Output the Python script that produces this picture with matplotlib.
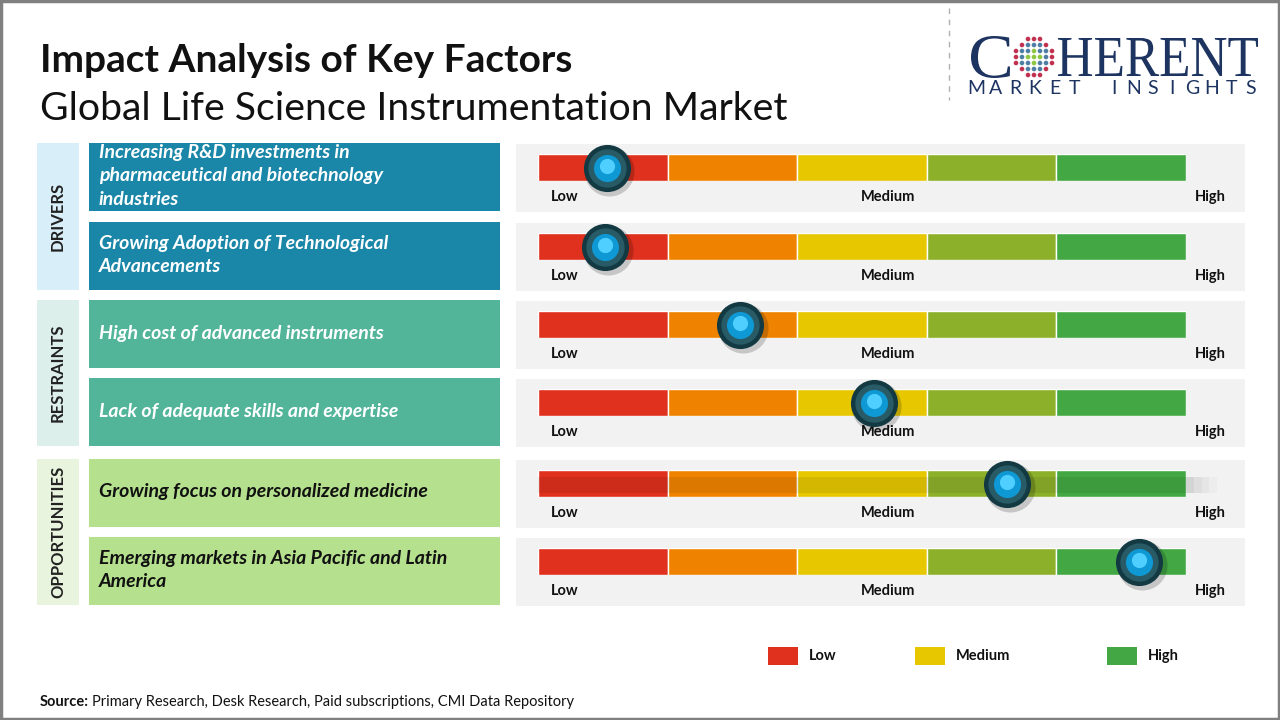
import numpy as np
import matplotlib
matplotlib.use('agg')
import matplotlib.pyplot as plt
from matplotlib.patches import Rectangle, PathPatch
from matplotlib.textpath import TextPath
from matplotlib.font_manager import FontProperties
from matplotlib.transforms import Affine2D

plt.rcParams['font.family'] = ['Lato', 'DejaVu Sans']

# ---- data ----
title = "Impact Analysis of Key Factors"
subtitle = "Global Life Science Instrumentation Market"
categories = ["DRIVERS", "RESTRAINTS", "OPPORTUNITIES"]
factors = [
    "Increasing R&D investments in\npharmaceutical and biotechnology\nindustries",
    "Growing Adoption of Technological\nAdvancements",
    "High cost of advanced instruments",
    "Lack of adequate skills and expertise",
    "Growing focus on personalized medicine",
    "Emerging markets in Asia Pacific and Latin\nAmerica",
]
factor_category = [0, 0, 1, 1, 2, 2]
# impact position on a 0-5 scale (five colour bands)
impact = [0.53, 0.52, 1.56, 2.59, 3.62, 4.64]
band_colors = ["#e0301e", "#ef8300", "#e6c700", "#8db02a", "#43a843"]
scale_labels = ["Low", "Medium", "High"]
scale_pos = [0.10, 2.70, 5.19]
legend_labels = ["Low", "Medium", "High"]
legend_colors = ["#e0301e", "#e6c700", "#43a843"]
source = "Primary Research, Desk Research, Paid subscriptions, CMI Data Repository"

W, H = 1280, 720
fig = plt.figure(figsize=(12.8, 7.2), dpi=100)
ax = fig.add_axes([0, 0, 1, 1])
ax.set_xlim(0, W)
ax.set_ylim(H, 0)
ax.axis('off')

# frame
ax.add_patch(Rectangle((1, 1), W - 2, H - 2, fill=False, ec="#808080", lw=2.5))

ax.text(40, 72, title, fontsize=28, fontweight='bold', color="#111111", va='baseline')
ax.text(40, 120, subtitle, fontsize=28.3, color="#111111", va='baseline')

# logo
ax.plot([949, 949], [8, 100], ls=(0, (4, 4)), color="#b0b0b0", lw=1)


def fit_text(s, x0, x1, y0, y1, prop, color):
    tp = TextPath((0, 0), s, prop=prop, size=50)
    ext = tp.get_extents()
    sx = (x1 - x0) / ext.width
    sy = (y1 - y0) / ext.height
    tr = Affine2D().translate(-ext.x0, -ext.y0).scale(sx, -sy).translate(x0, y1)
    ax.add_patch(PathPatch(tr.transform_path(tp), fc=color, ec='none'))


navy = "#1d3461"
serif = FontProperties(family="Liberation Serif")
fit_text("C", 971, 1010, 36, 78, serif, navy)
fit_text("HERENT", 1058, 1258, 38, 76, serif, navy)
mk = "MARKET INSIGHTS"
xs = np.linspace(976, 1251, len(mk))
for ch, xc in zip(mk, xs):
    if ch != " ":
        ax.text(xc, 88, ch, color=navy, ha='center', va='center',
                fontproperties=FontProperties(family="Lato", weight='normal', size=14))
gx, gy, gr = 1034, 57, 20
for i in np.arange(-3, 4):
    for j in np.arange(-3, 4):
        px, py = gx + j * 6.0, gy + i * 6.0
        d = np.hypot(px - gx, py - gy) / gr
        if d > 1.05:
            continue
        c = "#c2304f" if d > 0.8 else ("#4d7ea3" if d > 0.4 else "#8dc63f")
        ax.add_patch(plt.Circle((px, py), 2.3, color=c, lw=0))

# layout
row_top = [143, 222, 300, 378, 459, 537]
row_h = 68
cat_fill = ["#d8eef8", "#dcefea", "#e8f4de"]
box_fill = ["#1a87a8", "#1a87a8", "#52b59a", "#52b59a", "#b5e08d", "#b5e08d"]
text_col = ["white", "white", "white", "white", "#111111", "#111111"]

for c, name in enumerate(categories):
    rows = [r for r, fc in enumerate(factor_category) if fc == c]
    y0 = row_top[rows[0]]
    y1 = row_top[rows[-1]] + row_h
    ax.add_patch(Rectangle((37, y0), 42, y1 - y0, fc=cat_fill[c], ec='none'))
    ax.text(58, (y0 + y1) / 2, name, rotation=90, ha='center', va='center',
            fontsize=12, fontweight='bold', color="#222222")

bar_x0, bar_x1 = 538, 1186
bar_h = 27
for r, txt in enumerate(factors):
    y0 = row_top[r]
    ax.add_patch(Rectangle((89, y0), 411, row_h, fc=box_fill[r], ec='none'))
    ax.text(99, y0 + row_h / 2 - 1, txt, ha='left', va='center', fontsize=14,
            fontweight='bold', style='italic', color=text_col[r], linespacing=1.45)
    # gauge panel
    ax.add_patch(Rectangle((516, y0 + 1), 729, row_h, fc="#f2f2f2", ec='none'))
    for lab, p in zip(scale_labels, scale_pos):
        xp = bar_x0 + p * (bar_x1 - bar_x0) / 5
        ax.text(xp, y0 + 54, lab, ha='left' if lab == "Low" else 'center', va='center',
                fontsize=10.5, fontweight='bold', color="#111111")

    gax = fig.add_axes([bar_x0 / W, 1 - (y0 + 11 + bar_h) / H,
                        (bar_x1 - bar_x0) / W, bar_h / H])
    gax.set_xlim(0, 5)
    gax.set_ylim(0, 1)
    gax.axis('off')
    for k, col in enumerate(band_colors):
        gax.barh(0.5, 1, left=k, height=1, color=col, edgecolor='white', linewidth=1)
    if r == 4:
        # soft shadow across this gauge
        gax.barh(0.45, 5, left=0, height=0.6, color='black', alpha=0.08)
        for a, w in zip([0.10, 0.08, 0.06, 0.04], [0.06, 0.12, 0.18, 0.24]):
            gax.barh(0.45, w, left=5, height=0.6, color='#808080', alpha=a, lw=0, clip_on=False)
    v = impact[r]
    gax.scatter([v + 0.02], [0.36], s=1300, color='#000000', alpha=0.18, lw=0, clip_on=False, zorder=3)
    gax.scatter([v], [0.5], s=1150, color='#133a43', lw=0, clip_on=False, zorder=4)
    gax.scatter([v], [0.5], s=760, color='#285b66', lw=0, clip_on=False, zorder=5)
    gax.scatter([v], [0.5], s=380, color='#0e98d4', lw=0, clip_on=False, zorder=6)
    gax.scatter([v], [0.56], s=120, color='#4fcfff', lw=0, clip_on=False, zorder=7)

# legend
leg_x = [768, 915, 1107]
for lab, col, lx in zip(legend_labels, legend_colors, leg_x):
    ax.add_patch(Rectangle((lx, 647), 30, 18, fc=col, ec='none'))
    ax.text(lx + 41, 656, lab, ha='left', va='center', fontsize=10.5,
            fontweight='bold', color="#111111")

# source
t = ax.text(40, 702, "Source:", fontsize=10.5, fontweight='bold', color="#111111", va='center')
fig.canvas.draw()
bb = t.get_window_extent()
ax.text(40 + bb.width + 3, 702, source, fontsize=10.5, color="#111111", va='center')

fig.savefig("out.png", dpi=100)
